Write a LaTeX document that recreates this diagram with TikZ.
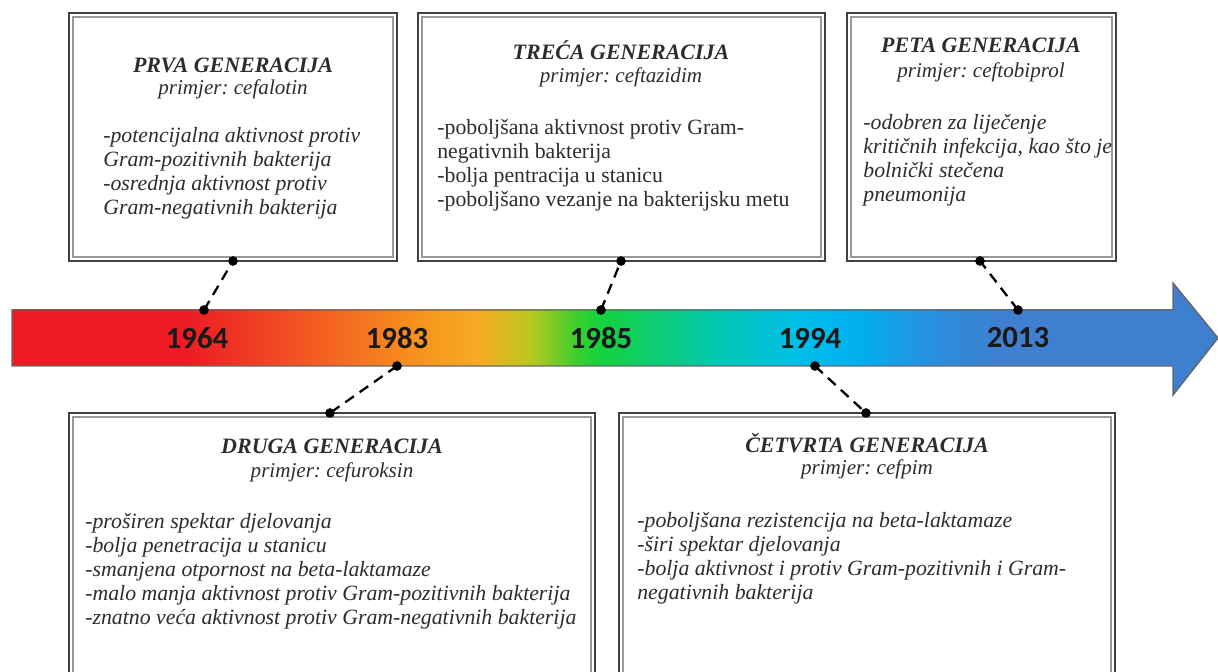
\documentclass[tikz,border=0pt]{standalone}
\usepackage{fontspec}
\setmainfont{Liberation Serif}
\newfontfamily\yearfont{Carlito}
\usetikzlibrary{calc,positioning,fit}
\frenchspacing

\definecolor{tlred}{RGB}{237,28,36}
\definecolor{tlredorange}{RGB}{244,100,34}
\definecolor{tlorange}{RGB}{247,148,29}
\definecolor{tlamber}{RGB}{245,172,35}
\definecolor{tllime}{RGB}{185,200,30}
\definecolor{tlgreen}{RGB}{60,208,45}
\definecolor{tlgreenb}{RGB}{20,210,60}
\definecolor{tlmint}{RGB}{15,205,110}
\definecolor{tlteal}{RGB}{0,200,180}
\definecolor{tlcyan}{RGB}{0,190,232}
\definecolor{tlsky}{RGB}{0,175,240}
\definecolor{tlblue}{RGB}{45,140,220}
\definecolor{tlsteel}{RGB}{62,127,207}
\definecolor{boxtext}{RGB}{45,45,45}

\pgfdeclarehorizontalshading{timeline}{100bp}{color(0bp)=(tlred); color(25bp)=(tlred); color(32.5bp)=(tlred); color(38.7bp)=(tlredorange); color(42.6bp)=(tlorange); color(45.2bp)=(tlamber); color(47.3bp)=(tllime); color(49.3bp)=(tlgreen); color(50.3bp)=(tlgreenb); color(52.5bp)=(tlmint); color(55.5bp)=(tlteal); color(58.9bp)=(tlcyan); color(61.5bp)=(tlsky); color(65bp)=(tlblue); color(67.6bp)=(tlsteel); color(75bp)=(tlsteel); color(100bp)=(tlsteel)}

\tikzset{
  genbox/.style={draw=black!75, line width=1.1pt, fill=white, inner sep=0pt},
  innerframe/.style={draw=black!40, line width=0.7pt},
  gentitle/.style={font=\fontsize{12.5}{15}\selectfont\bfseries\itshape, text=boxtext},
  genexample/.style={font=\fontsize{12}{14}\selectfont\itshape, text=boxtext},
  genbody/.style={anchor=north west, align=left, inner sep=0pt,
    font=\fontsize{12.4}{13.6}\selectfont\itshape, text=boxtext},
  year/.style={font=\yearfont\fontsize{17.5}{20}\selectfont\bfseries, text=black!90},
  pin/.style={circle, fill=black, inner sep=0pt, minimum size=5.5pt},
  link/.style={line width=1.3pt, dash pattern=on 6pt off 4pt},
  arrowrim/.style={draw=black!60, line width=0.8pt, line join=miter}
}

\begin{document}
\begin{tikzpicture}[x=0.02cm, y=-0.02cm]
\useasboundingbox (0,0) rectangle (1218,672);
\clip (0,0) rectangle (1218,672);

% timeline arrow
\shade[shading=timeline] (12,310) rectangle (1173,366);
\fill[tlsteel] (1173,310) -- (1173,283) -- (1218,338) -- (1173,395) -- (1173,366) -- cycle;
\draw[arrowrim] (12,310) -- (1173,310) -- (1173,283) -- (1218,338) -- (1173,395) -- (1173,366) -- (12,366) -- cycle;

\path (197,338) node[year] (y1964) {1964};
\path (397,338) node[year] (y1983) {1983};
\path (601,338) node[year] (y1985) {1985};
\path (810,338) node[year] (y1994) {1994};
\path (1018,338) node[year] (y2013) {2013};

% boxes
\node[genbox, fit={(69,13) (397,261)}] (prva) {};
\node[genbox, fit={(418,13) (825,261)}] (treca) {};
\node[genbox, fit={(847,13) (1116,261)}] (peta) {};
\node[genbox, fit={(69,413) (595,700)}] (druga) {};
\node[genbox, fit={(619,413) (1115,700)}] (cetvrta) {};
\foreach \b in {prva,treca,peta,druga,cetvrta}
  \draw[innerframe] ([shift={(5,5)}]\b.north west) rectangle ([shift={(-5,-5)}]\b.south east);

% PRVA
\path (233,65) node[gentitle] (t1) {PRVA GENERACIJA};
\path (233,89) node[genexample] (e1) {primjer: cefalotin};
\path (103,127) node[genbody] (b1) {-potencijalna aktivnost protiv\\Gram-pozitivnih bakterija\\-osrednja aktivnost protiv\\Gram-negativnih bakterija};

% TRECA
\path (621,50) node[gentitle] (t3) {TREĆA GENERACIJA};
\path (621,77) node[genexample] (e3) {primjer: ceftazidim};
\path (437,119) node[genbody, font=\fontsize{12.4}{13.6}\selectfont\upshape] (b3) {-poboljšana aktivnost protiv Gram-\\negativnih bakterija\\-bolja pentracija u stanicu\\-poboljšano vezanje na bakterijsku metu};

% PETA
\path (981,45) node[gentitle] (t5) {PETA GENERACIJA};
\path (981,72) node[genexample] (e5) {primjer: ceftobiprol};
\path (863,114) node[genbody] (b5) {-odobren za liječenje\\kritičnih infekcija, kao što je\\bolnički stečena\\pneumonija};

% DRUGA
\path (332,446) node[gentitle] (t2) {DRUGA GENERACIJA};
\path (332,472) node[genexample] (e2) {primjer: cefuroksin};
\path (85,513) node[genbody] (b2) {-proširen spektar djelovanja\\-bolja penetracija u stanicu\\-smanjena otpornost na beta-laktamaze\\-malo manja aktivnost protiv Gram-pozitivnih bakterija\\-znatno veća aktivnost protiv Gram-negativnih bakterija};

% CETVRTA
\path (867,443) node[gentitle] (t4) {ČETVRTA GENERACIJA};
\path (867,469) node[genexample] (e4) {primjer: cefpim};
\path (637,512) node[genbody] (b4) {-poboljšana rezistencija na beta-laktamaze\\-širi spektar djelovanja\\-bolja aktivnost i protiv Gram-pozitivnih i Gram-\\negativnih bakterija};

% dashed pins
\node[pin] (p1964) at (204,310) {};
\node[pin] (q1964) at (233,261) {};
\node[pin] (p1983) at (397,366) {};
\node[pin] (q1983) at (330,413) {};
\node[pin] (p1985) at (601,310) {};
\node[pin] (q1985) at (621,261) {};
\node[pin] (p1994) at (815,366) {};
\node[pin] (q1994) at (866,413) {};
\node[pin] (p2013) at (1018,310) {};
\node[pin] (q2013) at (980,261) {};
\foreach \y in {1964,1983,1985,1994,2013}
  \draw[link] (p\y.center) -- (q\y.center);
\end{tikzpicture}
\end{document}
